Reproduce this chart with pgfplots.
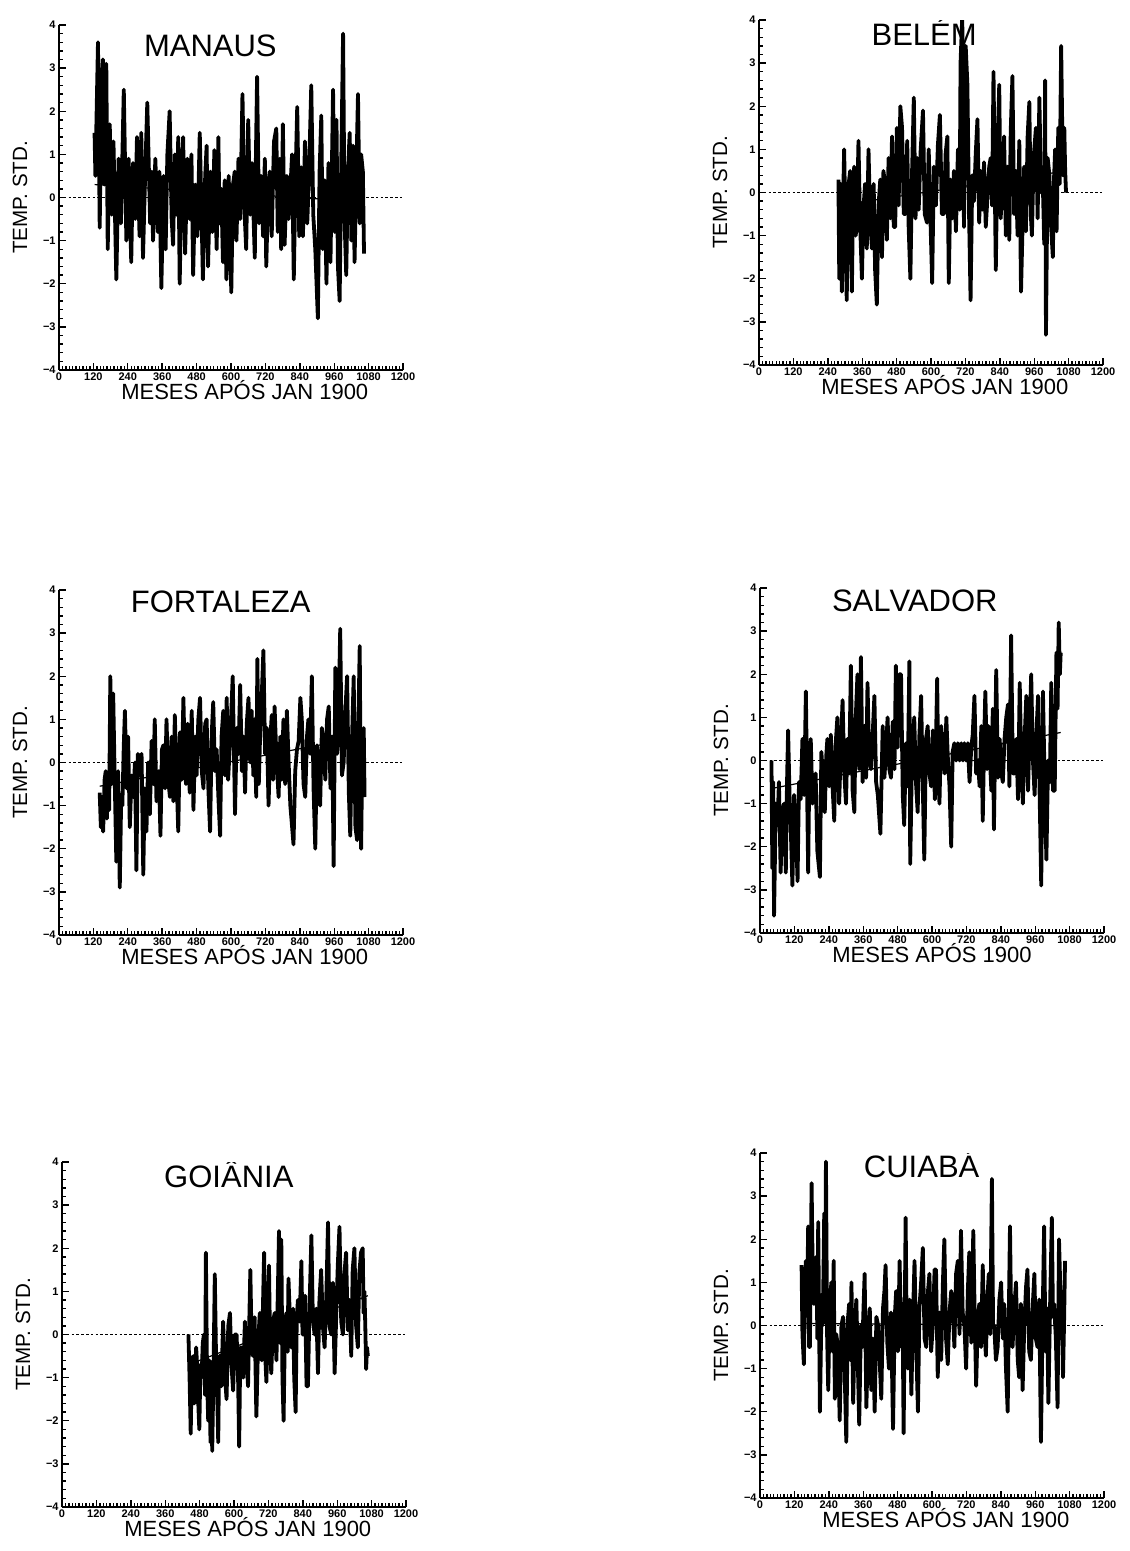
\documentclass[border=0pt]{standalone}
\usepackage{pgfplots}
\pgfplotsset{compat=1.18}
\usepackage{fontspec}
\setmainfont{Liberation Sans}
\tikzset{ttl/.style={font=\fontsize{15.5}{16}\selectfont}}
\pgfplotsset{panel/.style={
  width=172pt, height=172.5pt, scale only axis,
  xmin=0, xmax=1200, ymin=-4, ymax=4,
  axis lines=left, axis line style={-, line width=1.2pt},
  xtick={0,120,240,360,480,600,720,840,960,1080,1200},
  xticklabels={0,120,240,360,480,600,720,840,960,1080,1200},
  ytick={-4,-3,-2,-1,0,1,2,3,4},
  yticklabels={−4,−3,−2,−1,0,1,2,3,4},
  minor x tick num=9, minor y tick num=4,
  tick align=inside, major tick length=3.5pt, minor tick length=2.2pt,
  every tick/.style={line width=0.7pt, black},
  ticklabel style={font=\fontsize{5.5}{6}\bfseries\selectfont},
  xticklabel style={inner sep=1pt},
  yticklabel style={inner sep=1.5pt},
  xlabel={MESES APÓS JAN 1900},
  ylabel={TEMP. STD.},
  xlabel style={font=\fontsize{11}{12}\selectfont, at={(axis description cs:0.54,-0.058)}, anchor=center},
  ylabel style={font=\fontsize{10.3}{12}\selectfont, at={(axis description cs:-0.113,0.5)}, anchor=center},
},
series/.style={black, line width=1.9pt, line join=round},
zeroline/.style={black, line width=0.9pt, dash pattern=on 1.3pt off 1.1pt},
trend/.style={black, line width=0.6pt}
}
\begin{document}
\begin{tikzpicture}
\useasboundingbox (0pt,0pt) rectangle (564.5pt,-775.5pt);
% ---------------- MANAUS
\begin{axis}[panel, at={(29.5pt,-185pt)}, anchor=south west]
\addplot[zeroline] coordinates {(0,0)(1200,0)};
\addplot[series] coordinates {
(124,1.5)(127,0.5)(136,3.6)(142,-0.7)(148,2.6)(153,3.2)(158,0.3)(165,3.1)(170,-1.2)(177,1.7)
(184,-0.4)(190,1.3)(200,-1.9)(208,0.9)(216,-0.6)(226,2.5)(235,-1.0)(243,0.9)(252,-1.5)(258,0.8)
(266,-0.5)(272,1.4)(281,-0.9)(287,1.5)(293,-1.4)(300,0.4)(308,2.2)(318,-0.6)(324,0.6)(328,-1.0)
(336,0.9)(345,-0.8)(350,0.6)(357,-2.1)(365,0.5)(372,-1.2)(378,1.0)(386,2.0)(393,-0.5)(398,-1.1)
(404,1.0)(410,-0.4)(416,1.4)(421,-2.0)(428,0.6)(433,1.4)(440,-1.3)(448,0.9)(456,-0.5)(462,1.0)
(468,-1.8)(475,0.3)(483,-0.9)(491,1.5)(497,-0.3)(502,-1.9)(510,0.5)(515,1.2)(520,-1.6)(528,0.6)
(535,-0.8)(542,1.1)(550,-1.2)(556,1.4)(560,-0.6)(566,0.2)(572,-1.5)(578,0.4)(584,-1.9)(592,0.5)
(601,-2.2)(607,0.3)(613,0.6)(619,-1.0)(626,0.9)(632,-0.5)(640,2.4)(647,-0.3)(653,-1.2)(660,1.8)
(667,-0.4)(673,0.8)(683,-1.4)(687,1.0)(691,2.8)(698,-0.6)(705,0.5)(712,-0.9)(718,0.9)(723,-1.6)
(730,0.3)(735,0.6)(742,-0.9)(750,1.3)(758,1.6)(763,-0.8)(770,0.9)(775,-1.2)(781,1.7)(787,-1.1)
(795,0.5)(801,-0.5)(808,0.3)(813,1.0)(819,-1.9)(825,0.4)(831,2.1)(838,-0.9)(845,0.7)(851,-0.9)
(858,1.3)(866,-0.6)(872,0.5)(880,2.6)(887,-0.4)(894,-1.2)(903,-2.8)(909,0.6)(915,1.9)(920,-1.2)
(927,0.4)(933,-2.0)(940,0.8)(947,-1.5)(956,2.5)(962,-0.8)(968,1.8)(973,-1.6)(979,-2.4)(985,1.0)
(991,3.8)(996,-0.5)(1002,-1.8)(1008,0.6)(1014,1.5)(1020,-1.0)(1026,1.2)(1031,-1.5)(1037,0.5)(1043,2.4)
(1049,-0.6)(1054,1.0)(1060,0.6)(1064,-1.3)};
\addplot[trend] coordinates {(124,0.3)(1064,-0.1)};
\node[ttl] at (rel axis cs:0.44,0.94) {MANAUS};
\end{axis}
% ---------------- BELEM
\begin{axis}[panel, at={(379.5pt,-182.5pt)}, anchor=south west]
\addplot[zeroline] coordinates {(0,0)(1200,0)};
\addplot[series] coordinates {
(277,0.3)(280,-2.0)(285,0.2)(289,-2.3)(293,-0.3)(297,1.0)(302,-1.0)(306,-2.5)(311,0.1)(318,0.5)
(321,-1.2)(324,-2.3)(328,-0.2)(332,0.6)(337,-1.0)(341,-0.8)(347,1.2)(352,-0.6)(359,-2.0)(364,-0.4)
(370,0.2)(376,-1.3)(382,1.0)(388,-0.7)(394,-1.3)(400,0.2)(405,-1.8)(411,-2.6)(417,-0.3)(423,0.3)
(429,-1.5)(434,0.5)(440,0.2)(446,-1.1)(452,0.8)(458,-0.6)(464,1.3)(470,-0.8)(475,-0.8)(481,1.5)
(487,-0.3)(493,2.0)(499,1.5)(505,-0.5)(511,-0.5)(517,1.2)(522,-0.8)(528,-2.0)(534,0.5)(540,2.2)
(546,-0.6)(552,0.8)(557,-0.4)(564,1.0)(572,1.9)(578,-0.5)(586,-0.7)(592,1.0)(598,-0.6)(604,-2.1)
(610,0.6)(617,-0.3)(624,1.1)(631,1.8)(638,-0.5)(645,-0.5)(651,0.9)(657,1.3)(662,-2.1)(668,0.3)
(674,-0.6)(680,0.5)(687,-0.9)(694,1.0)(700,-0.4)(703,3.0)(709,4.1)(715,-0.8)(721,3.4)(727,2.5)
(733,-0.6)(738,-2.5)(744,0.4)(750,-0.2)(756,0.9)(762,1.7)(768,-0.7)(773,0.5)(779,-0.4)(785,0.7)
(791,-0.8)(797,-0.1)(803,0.6)(808,0.8)(813,-0.3)(818,2.8)(826,-1.8)(832,1.0)(838,2.5)(843,-0.6)
(849,0.2)(855,1.3)(861,-1.0)(867,0.6)(873,-1.1)(878,1.4)(884,2.7)(890,-0.5)(896,0.5)(902,-1.0)
(908,1.2)(914,-2.3)(920,-0.6)(925,0.6)(931,-0.9)(937,1.3)(943,2.1)(948,-0.5)(952,-1.0)(958,0.8)
(966,1.5)(972,-0.6)(978,2.2)(984,0.0)(989,0.5)(995,-1.2)(998,2.6)(1001,-3.3)(1007,0.8)(1013,0.4)
(1019,-0.8)(1025,-1.5)(1029,0.3)(1033,1.0)(1038,-0.9)(1044,1.5)(1049,0.2)(1054,3.4)(1060,0.4)(1065,1.5)
(1068,0.5)(1071,0.0)};
\addplot[trend] coordinates {(277,-0.3)(1071,0.5)};
\node[ttl] at (rel axis cs:0.48,0.965) {BELÉM};
\end{axis}
% ---------------- FORTALEZA
\begin{axis}[panel, at={(29.5pt,-467.5pt)}, anchor=south west]
\addplot[zeroline] coordinates {(0,0)(1200,0)};
\addplot[series] coordinates {
(142,-0.7)(146,-1.5)(150,-0.8)(154,-1.6)(159,-0.4)(163,-0.2)(167,-1.3)(171,-0.5)(175,-1.1)(179,2.0)
(184,-0.5)(189,1.6)(195,-0.6)(200,-2.3)(206,-0.2)(212,-2.9)(217,-0.8)(221,-1.0)(226,0.4)(230,1.2)
(236,-0.6)(241,0.6)(247,-1.5)(253,-0.3)(259,-0.8)(265,0.0)(270,-2.5)(275,0.2)(280,-0.3)(284,0.1)
(288,0.2)(294,-2.6)(299,-0.6)(305,-1.6)(311,0.0)(317,-1.2)(323,0.5)(329,-0.5)(334,1.0)(340,-0.9)
(348,-0.2)(354,-1.7)(359,0.3)(364,0.4)(370,-0.6)(375,1.0)(381,-0.4)(387,-0.8)(393,0.6)(399,-0.9)
(404,1.1)(410,-0.3)(416,-1.6)(422,0.7)(428,-0.4)(434,1.5)(439,0.0)(443,-0.5)(449,0.9)(456,-0.7)
(463,1.2)(469,-1.1)(475,0.6)(480,-0.3)(486,1.0)(492,1.5)(498,-0.2)(504,-0.6)(510,0.9)(515,1.0)
(521,-0.6)(527,-1.6)(533,0.7)(538,1.4)(544,-0.2)(550,0.3)(556,-0.8)(562,-1.7)(567,0.6)(573,1.2)
(579,-0.3)(585,1.5)(590,-0.4)(596,0.4)(600,1.0)(606,2.0)(614,-1.2)(620,0.8)(626,0.2)(632,1.8)
(638,-0.2)(644,0.6)(649,-0.7)(655,0.9)(661,1.5)(667,0.0)(672,1.2)(678,-0.3)(682,1.0)(688,-0.8)
(692,2.4)(697,-0.5)(701,0.5)(707,1.5)(713,2.6)(719,0.2)(725,0.8)(731,-1.0)(737,0.5)(742,1.1)
(747,-0.4)(752,1.3)(758,0.2)(766,-0.8)(772,0.6)(777,-0.4)(783,1.0)(789,-0.5)(795,1.2)(801,0.0)
(807,-1.0)(812,-1.4)(818,-1.9)(824,-0.2)(830,0.3)(836,0.5)(842,1.5)(847,1.0)(853,-0.5)(859,-0.8)
(865,0.6)(870,1.0)(876,0.2)(882,2.0)(888,-0.6)(894,-2.0)(900,0.4)(906,-0.3)(911,-1.0)(917,0.8)
(923,0.5)(929,-0.4)(935,1.0)(941,1.3)(947,-0.6)(953,0.6)(958,-2.4)(964,2.2)(970,0.2)(975,1.0)
(981,3.1)(987,-0.3)(993,0.0)(999,1.2)(1005,2.0)(1011,-0.7)(1016,-1.7)(1022,0.5)(1028,2.0)(1034,-1.5)
(1040,-1.8)(1044,0.8)(1049,2.7)(1054,-2.0)(1058,0.3)(1063,0.8)(1066,-0.8)};
\addplot[trend] coordinates {(142,-0.55)(1066,0.6)};
\node[ttl] at (rel axis cs:0.47,0.965) {FORTALEZA};
\end{axis}
% ---------------- SALVADOR
\begin{axis}[panel, at={(380pt,-466.5pt)}, anchor=south west, xlabel={MESES APÓS 1900},
  xlabel style={at={(axis description cs:0.5,-0.058)}}]
\addplot[zeroline] coordinates {(0,0)(1200,0)};
\addplot[series] coordinates {
(40,0.0)(43,-2.5)(46,-0.5)(49,-3.6)(55,-1.0)(61,-1.5)(66,-0.5)(72,-2.6)(78,-1.2)(84,-1.0)
(90,-2.6)(94,-0.6)(98,0.7)(103,-0.8)(107,-1.5)(113,-2.9)(119,-0.8)(125,-1.5)(131,-2.8)(136,-0.5)
(142,-0.9)(148,0.5)(154,-0.8)(160,1.6)(168,-2.6)(172,-0.2)(177,0.5)(183,-1.0)(189,-0.6)(194,-0.3)
(200,-2.1)(209,-2.7)(214,0.2)(218,-0.2)(222,-0.8)(226,-1.2)(231,0.1)(235,0.5)(241,-0.6)(247,0.6)
(253,-0.6)(259,-1.4)(264,0.4)(270,1.0)(276,-1.0)(282,0.3)(288,1.4)(294,-0.3)(300,-1.0)(305,0.5)
(311,-0.3)(317,2.2)(323,-0.7)(329,-1.2)(334,1.0)(340,2.0)(346,-0.2)(352,2.4)(358,-0.5)(364,0.8)
(370,-0.4)(375,1.8)(381,0.0)(387,-0.2)(393,0.6)(399,1.5)(405,-0.5)(411,-0.8)(420,-1.7)(428,0.8)
(434,-0.4)(440,0.3)(445,1.0)(451,-0.2)(457,-0.4)(463,0.9)(469,-0.2)(474,2.2)(480,0.3)(486,2.0)
(492,2.0)(498,-0.8)(503,-1.5)(509,0.4)(515,-0.6)(521,2.3)(524,-2.4)(530,0.0)(538,1.0)(544,-0.5)
(550,-1.2)(556,0.6)(562,1.5)(567,-0.3)(573,-2.3)(579,0.5)(585,0.8)(591,-0.3)(597,-0.6)(603,0.7)
(610,-0.9)(618,1.9)(622,-0.3)(626,-1.0)(632,0.8)(638,0.2)(644,-0.3)(650,1.0)(655,0.1)(661,-0.6)
(667,-2.0)(672,0.2)(678,0.4)(684,0.0)(690,0.4)(696,0.0)(702,0.4)(708,0.0)(713,0.4)(719,0.0)
(725,0.4)(731,-0.5)(737,0.3)(742,0.6)(748,1.5)(754,-0.3)(760,0.0)(766,-0.6)(772,0.8)(777,-1.4)
(782,0.5)(786,1.6)(792,-0.2)(797,0.8)(801,0.2)(807,-0.7)(812,1.2)(816,-1.6)(820,0.3)(824,2.1)
(830,-0.4)(836,0.5)(842,-0.3)(847,-0.5)(853,0.5)(859,1.0)(865,1.3)(870,-0.6)(876,2.9)(882,-0.3)
(888,-0.3)(894,0.5)(900,-0.9)(906,1.8)(912,-0.2)(917,-1.0)(923,0.5)(929,1.5)(935,-0.7)(941,0.8)
(946,2.0)(952,0.0)(958,-0.8)(964,0.6)(970,1.5)(976,-1.0)(981,-2.9)(987,1.6)(993,-0.5)(999,-2.3)
(1005,0.0)(1011,-0.5)(1016,1.8)(1022,-0.7)(1028,-0.7)(1034,2.5)(1038,1.2)(1042,3.2)(1046,2.0)(1049,2.5)};
\addplot[trend] coordinates {(40,-0.65)(1049,0.65)};
\node[ttl] at (rel axis cs:0.45,0.962) {SAL\kern-0.5pt VADOR};
\end{axis}
% ---------------- GOIANIA
\begin{axis}[panel, at={(31pt,-753.5pt)}, anchor=south west]
\addplot[zeroline] coordinates {(0,0)(1200,0)};
\addplot[series] coordinates {
(441,0.0)(445,-1.0)(449,-2.3)(453,-0.6)(458,-0.5)(461,-1.6)(464,-1.5)(468,-0.3)(472,-0.8)(476,-1.7)
(479,-2.2)(483,-0.7)(487,-1.0)(491,-0.2)(495,0.0)(499,-1.4)(502,1.9)(506,-1.0)(510,-2.0)(514,-0.6)
(518,-2.5)(521,-1.2)(524,-2.7)(529,-0.6)(533,1.4)(538,-0.8)(542,-1.6)(545,-2.5)(548,-0.5)(551,-0.5)
(556,-1.2)(562,0.3)(568,-0.9)(574,-1.5)(580,0.2)(586,0.5)(591,-0.7)(597,-1.3)(603,0.0)(609,0.0)
(614,-0.9)(618,-2.6)(622,-0.3)(626,-0.3)(632,-1.0)(638,0.3)(644,-0.6)(649,-1.2)(653,0.2)(657,1.5)
(662,-0.4)(667,-0.5)(672,0.4)(678,-1.9)(684,-0.2)(690,0.5)(697,-0.6)(705,1.9)(709,-0.5)(713,-1.1)
(718,0.3)(722,1.6)(726,-0.3)(730,-0.9)(736,0.3)(742,0.5)(748,-0.6)(753,1.0)(757,2.4)(761,-0.2)
(765,2.2)(769,-1.0)(773,-2.0)(778,0.3)(783,0.5)(787,-0.4)(790,1.3)(795,0.4)(800,-0.3)(806,0.6)
(810,-1.0)(815,-1.8)(819,0.4)(823,0.8)(829,0.3)(835,1.7)(839,0.0)(843,0.0)(848,0.9)(853,-1.2)
(858,-1.2)(863,0.5)(870,2.3)(875,0.4)(881,0.0)(887,0.6)(893,-0.9)(898,0.8)(904,1.5)(910,0.2)
(916,-0.3)(922,0.9)(928,2.6)(933,0.2)(939,0.0)(945,1.2)(951,-0.9)(956,0.3)(962,1.6)(968,2.5)
(974,0.3)(980,0.0)(985,1.4)(991,1.9)(997,0.1)(1003,0.8)(1009,-0.5)(1014,1.5)(1020,2.0)(1026,0.2)
(1032,-0.3)(1037,1.4)(1043,1.9)(1049,2.0)(1052,0.5)(1055,1.0)(1058,0.2)(1061,-0.8)(1064,-0.3)(1067,-0.5)};
\addplot[trend] coordinates {(441,-0.7)(1067,0.9)};
\node[ttl] at (rel axis cs:0.485,0.965) {GOIÂNIA};
\end{axis}
% ---------------- CUIABA
\begin{axis}[panel, at={(380pt,-749pt)}, anchor=south west]
\addplot[zeroline] coordinates {(0,0)(1200,0)};
\addplot[series] coordinates {
(145,1.4)(148,-0.2)(153,-0.9)(157,0.8)(160,1.5)(164,0.3)(168,2.3)(171,-0.5)(174,-0.5)(180,3.3)
(185,0.6)(188,0.5)(193,1.0)(197,1.6)(200,-0.3)(203,2.4)(209,-2.0)(214,0.2)(218,0.0)(221,1.0)
(224,2.6)(227,0.1)(230,3.8)(234,-0.2)(238,-1.5)(243,0.5)(249,1.0)(253,-0.6)(257,1.5)(261,-1.7)
(266,-0.2)(272,-0.5)(278,-2.2)(284,0.0)(290,0.2)(295,-1.0)(301,-2.7)(306,0.1)(311,0.5)(315,-0.8)
(319,1.0)(325,-1.8)(330,-0.2)(336,0.6)(341,-0.8)(346,-2.3)(352,0.0)(357,-0.5)(361,0.4)(365,1.2)
(371,-1.9)(377,-0.3)(383,0.4)(388,-1.5)(394,-0.3)(400,-2.0)(406,0.2)(412,0.0)(418,-0.9)(423,-1.7)
(429,0.4)(434,0.8)(438,1.4)(444,-0.4)(450,-1.0)(457,0.3)(464,-2.4)(470,0.2)(475,0.8)(481,-0.6)
(487,1.5)(493,-0.5)(497,0.5)(501,-2.5)(508,2.5)(512,-0.4)(516,-1.0)(522,0.6)(528,-1.6)(534,0.3)
(539,1.5)(545,-0.5)(551,-2.0)(556,0.4)(562,1.0)(568,1.8)(574,-0.3)(580,-0.5)(586,0.8)(591,1.2)
(597,-0.6)(603,0.0)(609,1.3)(614,1.3)(620,-1.2)(626,0.3)(632,-0.8)(638,1.0)(643,2.0)(649,-0.3)
(655,-0.9)(661,0.3)(667,0.8)(672,0.5)(678,-0.5)(684,1.2)(690,1.5)(696,-0.2)(701,2.2)(707,0.3)
(713,0.0)(719,-1.0)(725,0.8)(730,1.7)(737,-0.4)(744,2.2)(749,0.2)(754,-1.4)(760,0.2)(765,0.5)
(771,-0.5)(777,1.4)(782,0.0)(788,-0.7)(793,0.6)(798,1.2)(803,-0.2)(809,3.4)(813,0.0)(817,0.0)
(823,-0.8)(829,-0.5)(835,0.6)(841,1.0)(847,-0.3)(852,0.5)(858,-1.0)(864,-2.0)(868,0.3)(872,2.3)
(877,-0.3)(881,-0.5)(887,0.4)(893,1.0)(899,-0.8)(904,-1.2)(910,0.5)(916,-1.5)(922,0.0)(928,0.9)
(933,1.3)(939,-0.6)(945,-0.8)(951,0.4)(957,1.2)(962,-0.3)(968,-0.5)(974,0.6)(980,-2.7)(986,0.2)
(991,2.3)(996,-0.6)(1001,0.4)(1006,-1.8)(1012,0.5)(1018,2.5)(1022,0.2)(1026,0.5)(1032,-0.3)(1038,-1.9)
(1043,2.0)(1049,0.5)(1054,0.0)(1057,-1.2)(1061,0.2)(1064,1.5)};
\addplot[trend] coordinates {(145,0.05)(1064,0.0)};
\node[ttl] at (rel axis cs:0.47,0.968) {CUIABÁ};
\end{axis}
\end{tikzpicture}
\end{document}
